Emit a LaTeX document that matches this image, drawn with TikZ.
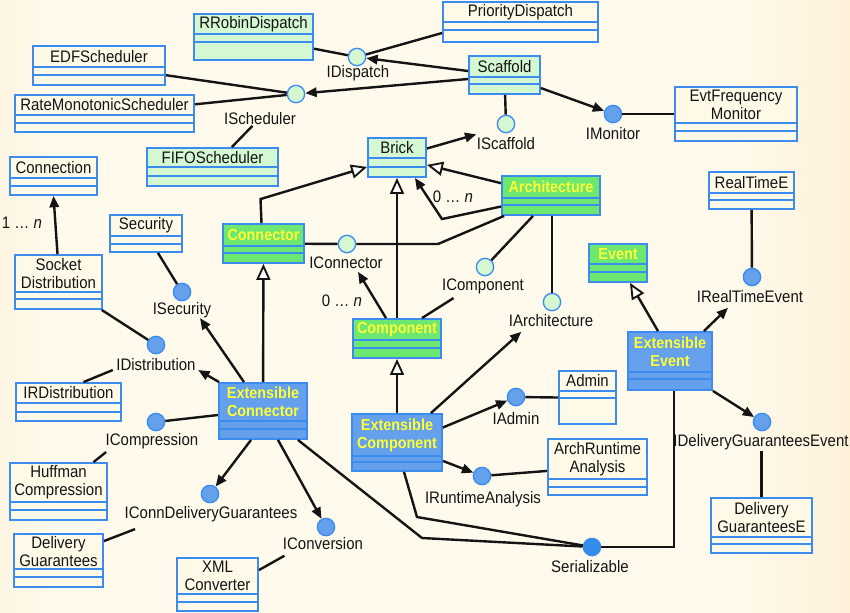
\documentclass[tikz,border=0pt]{standalone}
\usepackage{fontspec}
\setmainfont[FakeStretch=0.9]{Liberation Sans}
\usetikzlibrary{arrows.meta,calc,fit}
\definecolor{bgedge}{RGB}{245,208,150}
\definecolor{bgmid}{RGB}{255,250,236}
\definecolor{cream}{RGB}{255,250,232}
\definecolor{lgreen}{RGB}{212,248,210}
\definecolor{bgreen}{RGB}{108,232,112}
\definecolor{bblue}{RGB}{100,160,235}
\definecolor{bord}{RGB}{60,140,240}
\definecolor{ylw}{RGB}{255,255,51}
\definecolor{serblue}{RGB}{50,140,235}
\definecolor{ink}{RGB}{20,20,20}
\pgfdeclarehorizontalshading{bgshade}{100bp}{color(0bp)=(bgedge); color(28bp)=(bgmid); color(68bp)=(bgmid); color(100bp)=(bgedge)}
\newcommand\bxfont{\fontsize{12.5}{13.5}\selectfont}
\newcommand\bxbold{\fontsize{12}{13.5}\selectfont\bfseries}
\tikzset{
  ln/.style={draw=ink, line width=1.8pt},
  arr/.style={ln, -{Triangle[length=8.5pt,width=7pt]}},
  gen/.style={ln, -{Triangle[length=12pt,width=10.5pt,fill=white,line width=1.4pt]}},
  ifc/.style={circle, minimum size=13pt, inner sep=0pt, draw=bord, line width=1pt},
  lbl/.style={anchor=base, inner sep=1pt, font=\bxfont, text=ink},
  boxtext/.style={align=center, inner sep=0pt, font=\bxfont, text=ink},
  boldtext/.style={align=center, inner sep=0pt, font=\bxbold, text=ylw},
}
% #1 fill, #2 name, #3 x1, #4 y1, #5 x2, #6 y2, #7 sep1, #8 sep2, #9 text
\newcommand{\ubox}[9]{%
  \node[fit={(#3,#4) (#5,#6)}, inner sep=0pt, draw=bord, line width=1.4pt, fill=#1] (#2) {};
  \draw[bord, line width=1.1pt] (#3,#7) -- (#5,#7) (#3,#8) -- (#5,#8);
  \node[boxtext] (#2-t) at ({(#3+#5)/2},{(#4+#7)/2}) {#9};
}
\newcommand{\xbox}[9]{%
  \node[fit={(#3,#4) (#5,#6)}, inner sep=0pt, draw=bord, line width=1.4pt, fill=#1] (#2) {};
  \draw[bord, line width=1.1pt] (#3,#7) -- (#5,#7) (#3,#8) -- (#5,#8);
  \node[boldtext] (#2-t) at ({(#3+#5)/2},{(#4+#7)/2}) {#9};
}
\begin{document}
\begin{tikzpicture}[x=0.75pt,y=-0.75pt]
\useasboundingbox (0,0) rectangle (850,612);
\shade[shading=bgshade] (0,0) rectangle (850,612);

% boxes
\ubox{lgreen}{rrobin}{194}{14}{313}{60}{34}{42}{RRobinDispatch}
\ubox{cream}{priority}{443}{2}{598}{42}{22}{30}{PriorityDispatch}
\ubox{cream}{edf}{33}{46}{165}{85}{67}{75}{EDFScheduler}
\ubox{cream}{rate}{15}{95}{194}{132}{115}{123}{RateMonotonicScheduler}
\ubox{lgreen}{fifo}{147}{148}{278}{186}{167}{176}{FIFOScheduler}
\ubox{lgreen}{scaffold}{469}{56}{540}{94}{77}{84}{Scaffold}
\ubox{cream}{evtfreq}{675}{87}{797}{141}{123}{131}{EvtFrequency\\Monitor}
\ubox{cream}{connection}{10}{157}{97}{195}{178}{186}{Connection}
\ubox{lgreen}{brick}{368}{138}{426}{177}{158}{167}{Brick}
\xbox{bgreen}{arch}{502}{176}{600}{215}{198}{205}{Architecture}
\ubox{cream}{realtime}{709}{172}{794}{209}{193}{200}{RealTimeE}
\ubox{cream}{security}{110}{215}{182}{252}{236}{244}{Security}
\ubox{cream}{socket}{15}{255}{102}{309}{292}{299}{Socket\\Distribution}
\xbox{bgreen}{connector}{223}{224}{304}{263}{246}{253}{Connector}
\xbox{bgreen}{component}{353}{319}{441}{358}{340}{348}{Component}
\xbox{bgreen}{event}{589}{244}{647}{282}{264}{272}{Event}
\xbox{bblue}{extevent}{628}{332}{712}{390}{372}{379}{Extensible\\Event}
\ubox{cream}{irdist}{16}{383}{121}{421}{403}{412}{IRDistribution}
\xbox{bblue}{extconn}{219}{383}{307}{439}{421}{429}{Extensible\\Connector}
\ubox{cream}{admin}{559}{371}{616}{424}{391}{398}{Admin}
\xbox{bblue}{extcomp}{352}{414}{442}{471}{456}{462}{Extensible\\Component}
\ubox{cream}{archrt}{548}{439}{647}{495}{479}{487}{ArchRuntime\\Analysis}
\ubox{cream}{huffman}{10}{463}{107}{520}{502}{510}{Huffman\\Compression}
\ubox{cream}{delivery}{14}{534}{103}{587}{569}{577}{Delivery\\Guarantees}
\ubox{cream}{xml}{177}{558}{258}{611}{594}{602}{XML\\Converter}
\ubox{cream}{delive}{711}{498}{812}{553}{537}{544}{Delivery\\GuaranteesE}

% interfaces
\node[ifc, fill=lgreen] (idispatch) at (357,57) {};
\node[lbl] (idispatchlbl) at (358,77) {IDispatch};
\node[ifc, fill=lgreen] (isched) at (296,94) {};
\node[lbl] (ischedlbl) at (260,124) {IScheduler};
\node[ifc, fill=lgreen] (iscaffold) at (506,124) {};
\node[lbl] (iscaffoldlbl) at (506,149) {IScaffold};
\node[ifc, fill=bblue] (imonitor) at (613,114) {};
\node[lbl] (imonitorlbl) at (613,139) {IMonitor};
\node[ifc, fill=lgreen] (iconnector) at (347,244) {};
\node[lbl] (iconnectorlbl) at (346,268) {IConnector};
\node[ifc, fill=lgreen] (icomponent) at (485,267) {};
\node[lbl] (icomponentlbl) at (483,290) {IComponent};
\node[ifc, fill=lgreen] (iarch) at (552,302) {};
\node[lbl] (iarchlbl) at (551,326) {IArchitecture};
\node[ifc, fill=bblue] (isecurity) at (182,292) {};
\node[lbl] (isecuritylbl) at (182,314) {ISecurity};
\node[ifc, fill=bblue] (idist) at (156,345) {};
\node[lbl] (idistlbl) at (156,370) {IDistribution};
\node[ifc, fill=bblue] (irealtime) at (752,277) {};
\node[lbl] (irealtimelbl) at (750,302) {IRealTimeEvent};
\node[ifc, fill=bblue] (iadmin) at (516,397) {};
\node[lbl] (iadminlbl) at (516,424) {IAdmin};
\node[ifc, fill=bblue] (iruntime) at (482,476) {};
\node[lbl] (iruntimelbl) at (483,503) {IRuntimeAnalysis};
\node[ifc, fill=serblue] (serial) at (592,547) {};
\node[lbl] (seriallbl) at (590,572) {Serializable};
\node[ifc, fill=bblue] (iconversion) at (326,527) {};
\node[lbl] (iconversionlbl) at (323,549) {IConversion};
\node[ifc, fill=bblue] (iconndel) at (210,494) {};
\node[lbl] (iconndellbl) at (211,518) {IConnDeliveryGuarantees};
\node[ifc, fill=bblue] (icompress) at (156,422) {};
\node[lbl] (icompresslbl) at (152,445) {ICompression};
\node[ifc, fill=bblue] (idelev) at (762,422) {};
\node[lbl] (idelevlbl) at (761,446) {IDeliveryGuaranteesEvent};

% multiplicities
\node[lbl] (multa) at (453,202) {0 … \textit{n}};
\node[lbl] (multb) at (342,306) {0 … \textit{n}};
\node[lbl] (multc) at (22,228) {1 … \textit{n}};

% connectors
\draw[ln] (rrobin) -- (idispatch);
\draw[ln] ($(priority.west)+(0,11)$) -- (idispatch);
\draw[arr] ($(scaffold.west)+(0,-4)$) -- (idispatch);
\draw[arr] ($(scaffold.west)+(0,4)$) -- (isched);
\draw[ln] (edf) -- (isched);
\draw[ln] (rate) -- (isched);
\draw[ln] (fifo) -- (ischedlbl);
\draw[ln] (scaffold) -- (iscaffold);
\draw[arr] (scaffold) -- (imonitor);
\draw[ln] (imonitor) -- (evtfreq);
\draw[arr] ($(brick.east)+(0,-9)$) -- ($(iscaffoldlbl.north west)+(1,-1)$);

\draw[gen] ($(connector.north)+(-2,0)$) -- ($(connector.north)+(-3,-24)$) -- ($(brick.south west)+(0,-11)$);
\draw[gen] (component) -- (brick);
\draw[gen] (arch) -- (brick);
\coordinate (k1) at (442,219);
\draw[arr] ($(arch.west)+(0,11)$) -- (k1) -- ($(brick.south east)+(-12,0)$);
\draw[ln] (connector) -- (iconnector);
\coordinate (k2) at (438,244);
\draw[ln] (iconnector) -- (k2) -- ($(arch.south west)+(3,0)$);
\draw[arr] ($(component.north)+(-11,0)$) -- ($(iconnectorlbl.south)+(12,2)$);
\draw[ln] ($(arch.south)+(-18,0)$) -- (icomponent);
\draw[ln] ($(component.north)+(25,0)$) -- ($(icomponentlbl.south west)+(13,3)$);
\draw[ln] (iarch) -- (iarch |- arch.south);
\draw[arr] ($(extcomp.north east)+(-12,0)$) -- ($(iarchlbl.south west)+(14,4)$);
\draw[gen] (extcomp) -- (component);
\draw[gen] (extconn) -- (connector);

\draw[arr] ($(extconn.north)+(-19,0)$) -- ($(isecuritylbl.south)+(18,-1)$);
\draw[arr] ($(extconn.north west)+(1,0)$) -- ($(idistlbl.base east)+(1,0)$);
\draw[ln] (security) -- (isecurity);
\draw[ln] (socket) -- (idist);
\draw[arr] ($(socket.north)+(-1,0)$) -- (connection.south);
\draw[ln] ($(idistlbl.base west)+(-2,0)$) -- ($(irdist.north)+(15,0)$);
\draw[ln] ($(extconn.west)+(0,4)$) -- (icompress);
\draw[ln] ($(icompresslbl.south west)+(2,2)$) -- ($(huffman.north)+(35,0)$);
\draw[arr] ($(extconn.south)+(-12,0)$) -- (iconndel);
\draw[ln] ($(iconndellbl.south west)+(12,6)$) -- ($(delivery.north east)+(0,8)$);
\draw[arr] ($(extconn.south)+(15,0)$) -- (iconversion);
\draw[ln] ($(iconversionlbl.south west)+(3,5)$) -- ($(xml.north east)+(0,13)$);

\coordinate (k3) at (422,538);
\draw[ln] ($(extconn.south east)+(-10,0)$) -- (k3) -- (serial);
\coordinate (k4) at (417,517);
\draw[ln] ($(extcomp.south)+(7,0)$) -- (k4) -- (serial);
\coordinate (k5) at (674,547);
\draw[ln] (serial) -- (k5) -- (k5 |- extevent.south);
\draw[arr] ($(extcomp.east)+(0,-15)$) -- (iadmin);
\draw[ln] (iadmin) -- (admin.west);
\draw[arr] ($(extcomp.south east)+(0,-11)$) -- (iruntime);
\draw[ln] (iruntime) -- (archrt);

\draw[gen] ($(extevent.north)+(-12,0)$) -- ($(event.south)+(12,0)$);
\draw[arr] ($(extevent.north east)+(-9,0)$) -- ($(irealtimelbl.south)+(-22,4)$);
\draw[ln] (realtime) -- (irealtime);
\draw[arr] (extevent.south east) -- (idelev);
\draw[ln] (delive.north |- idelevlbl.south) -- (delive.north);
\end{tikzpicture}
\end{document}
